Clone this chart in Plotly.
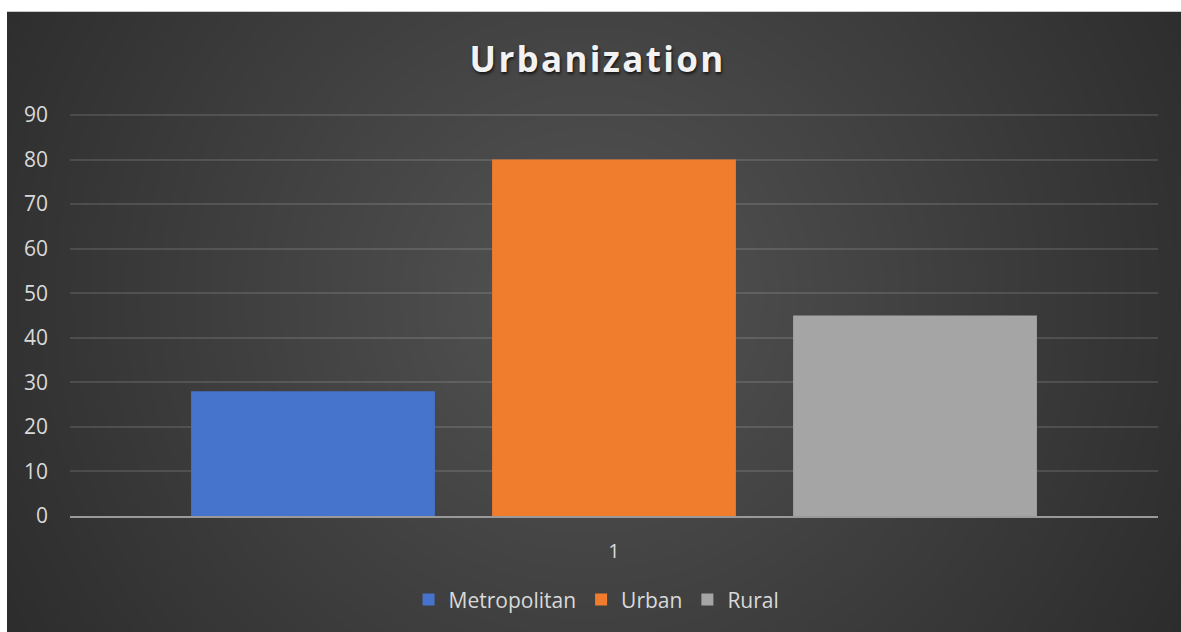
import base64, struct, zlib
import numpy as np
import plotly.graph_objects as go

# ---- data ----
categories = ["1"]
series_names = ["Metropolitan", "Urban", "Rural"]
series_values = [[28], [80], [45]]
series_colors = ["#4673cc", "#ef7d2d", "#a5a5a5"]
y_ticks = [0, 10, 20, 30, 40, 50, 60, 70, 80, 90]
title_text = "Urbanization"

# ---- background radial gradient image (style only) ----
W, H = 1200, 650
yy, xx = np.mgrid[0:H, 0:W]
d = np.sqrt((xx - 583.0) ** 2 + (yy - 290.0) ** 2)
v = np.clip(84 - 0.058 * d, 40, 90).astype(np.uint8)
rgb = np.dstack([v, v, v])
raw = b"".join(b"\x00" + rgb[r].tobytes() for r in range(H))
def chunk(t, data):
    c = struct.pack(">I", len(data)) + t + data
    return c + struct.pack(">I", zlib.crc32(t + data) & 0xFFFFFFFF)
png = b"\x89PNG\r\n\x1a\n" + chunk(b"IHDR", struct.pack(">IIBBBBB", W, H, 8, 2, 0, 0, 0)) \
      + chunk(b"IDAT", zlib.compress(raw, 9)) + chunk(b"IEND", b"")
bg_uri = "data:image/png;base64," + base64.b64encode(png).decode()

fig = go.Figure()
for name, vals, col in zip(series_names, series_values, series_colors):
    fig.add_trace(go.Bar(x=categories, y=vals, name=name,
                         marker=dict(color=col, line=dict(width=0))))

FW, FH = 1181, 632
L, R, T, B = 70, 23, 113, 109
pw, ph = FW - L - R, FH - T - B
px = lambda p: (p - L) / pw
py = lambda p: (FH - B - p) / ph
fig.add_layout_image(dict(source=bg_uri, xref="paper", yref="paper",
                          x=px(7), y=py(10), sizex=W / pw, sizey=H / ph,
                          xanchor="left", yanchor="top", sizing="stretch", layer="below"))
# white strips on the top and left edges
fig.add_shape(type="rect", xref="paper", yref="paper", x0=px(-20), x1=px(1220),
              y0=py(10), y1=py(-20), fillcolor="white", line=dict(width=0), layer="below")
fig.add_shape(type="rect", xref="paper", yref="paper", x0=px(-20), x1=px(7),
              y0=py(-20), y1=py(660), fillcolor="white", line=dict(width=0), layer="below")

spacer = '<span style="font-size:23px">\u200a</span>'
title_html = "<b>" + spacer.join(title_text) + "</b>"

fig.update_layout(
    width=FW, height=FH,
    margin=dict(l=L, r=R, t=T, b=B),
    paper_bgcolor="#2c2c2c", plot_bgcolor="rgba(0,0,0,0)",
    barmode="group", bargap=0.17, bargroupgap=0.19,
    title=dict(text=title_html, x=0.505, xanchor="center", y=0.905, yanchor="middle",
               font=dict(family="Open Sans", size=35, color="#f2f2f2",
                         shadow="1px 2px 3px rgba(0,0,0,0.7)")),
    font=dict(family="Open Sans", color="#d9d9d9"),
    yaxis=dict(range=[0, 90.45], tickvals=y_ticks, showgrid=True,
               gridcolor="rgba(255,255,255,0.12)", gridwidth=1.5,
               zeroline=False, showline=False, ticks="", ticklabelstandoff=21,
               tickfont=dict(size=21, color="#d9d9d9")),
    xaxis=dict(type="category", showline=True, linecolor="#9a9a9a", linewidth=2,
               ticks="", tickfont=dict(size=20, color="#d9d9d9"), ticklabelstandoff=16),
    legend=dict(orientation="h", x=0.484, xanchor="center", y=-0.208, yanchor="middle",
                font=dict(size=21, color="#d9d9d9"), bgcolor="rgba(0,0,0,0)",
                itemwidth=30, traceorder="normal"),
    showlegend=True,
)

fig.write_html("out.html")
